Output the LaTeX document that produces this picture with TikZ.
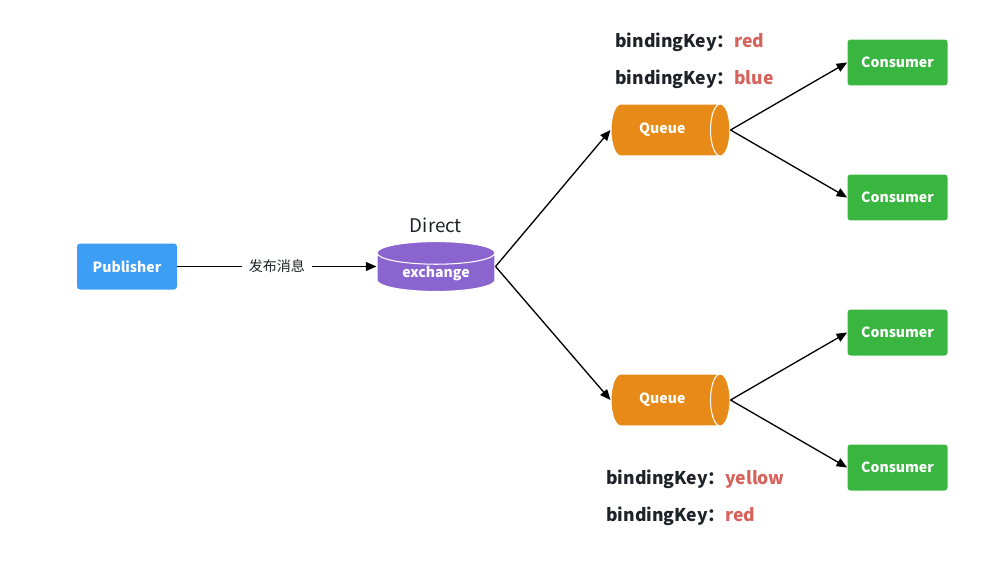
\documentclass[tikz,border=0pt]{standalone}
\usepackage{fontspec}
\setmainfont{Noto Sans CJK SC}
\usepackage{tikz}
\usetikzlibrary{shapes.geometric, arrows.meta, positioning}
\definecolor{pubblue}{HTML}{3D9EF5}
\definecolor{exchpurple}{HTML}{8A65CF}
\definecolor{queueorange}{HTML}{E88A17}
\definecolor{consgreen}{HTML}{38B640}
\definecolor{keyred}{HTML}{D5635C}
\definecolor{darktext}{HTML}{1F2329}
\tikzset{
    box/.style={rectangle, rounded corners=0.06cm, minimum width=2cm, minimum height=0.92cm, text=white, font=\fontsize{8}{10}\selectfont\bfseries},
    exchcyl/.style={cylinder, shape border rotate=90, aspect=0.32, draw=white, line width=0.6pt, fill=exchpurple, inner sep=1pt, minimum width=2.36cm, minimum height=0.98cm, anchor=shape center, text=white, font=\fontsize{8}{10}\selectfont\bfseries},
    queuecyl/.style={cylinder, aspect=0.77, draw=white, line width=0.6pt, fill=queueorange, minimum width=1.04cm, minimum height=2.38cm, anchor=shape center, text=white, font=\fontsize{8}{10}\selectfont\bfseries},
    keylabel/.style={anchor=west, inner sep=0pt, text=darktext, font=\fontsize{10}{12}\selectfont\bfseries},
    arrow/.style={-{Triangle[length=6pt, width=5pt]}, line width=0.75pt}
}
\newcommand{\bkey}[1]{bindingKey：\textcolor{keyred}{#1}}

\begin{document}
\begin{tikzpicture}[x=0.02cm, y=-0.02cm]
    \useasboundingbox (0,0) rectangle (1006,561);

    % Publisher and exchange
    \node[box, fill=pubblue] (publisher) at (127,266.5) {Publisher};
    \node[exchcyl] (exchange) at (436,266.5) {exchange};
    \node[above=0.04cm of exchange.north, anchor=south, text=darktext, font=\fontsize{10.7}{13}\selectfont] (direct) {Direct};

    % Queues
    \node[queuecyl] (queue1) at (670.5,130) {Queue};
    \node[queuecyl] (queue2) at (670.5,400) {Queue};

    % Consumers
    \node[box, fill=consgreen] (cons1) at (897.5,62.5) {Consumer};
    \node[box, fill=consgreen] (cons2) at (897.5,197.5) {Consumer};
    \node[box, fill=consgreen] (cons3) at (897.5,332.5) {Consumer};
    \node[box, fill=consgreen] (cons4) at (897.5,467.5) {Consumer};

    % Binding keys
    \node[keylabel] (key1) at (615,42) {\bkey{red}};
    \node[keylabel] (key2) at (615,79) {\bkey{blue}};
    \node[keylabel] (key3) at (606,479) {\bkey{yellow}};
    \node[keylabel] (key4) at (606,516) {\bkey{red}};

    % Arrows
    \draw[arrow] (publisher.east) -- node[fill=white, text=darktext, font=\fontsize{8}{10}\selectfont, inner xsep=4pt] (publish) {发布消息} (exchange.west |- publisher.east);
    \draw[arrow] (exchange.east |- publisher.east) -- (queue1.west);
    \draw[arrow] (exchange.east |- publisher.east) -- (queue2.west);
    \draw[arrow] (queue1.east) -- (cons1.west);
    \draw[arrow] (queue1.east) -- (cons2.west);
    \draw[arrow] (queue2.east) -- (cons3.west);
    \draw[arrow] (queue2.east) -- (cons4.west);
\end{tikzpicture}
\end{document}
